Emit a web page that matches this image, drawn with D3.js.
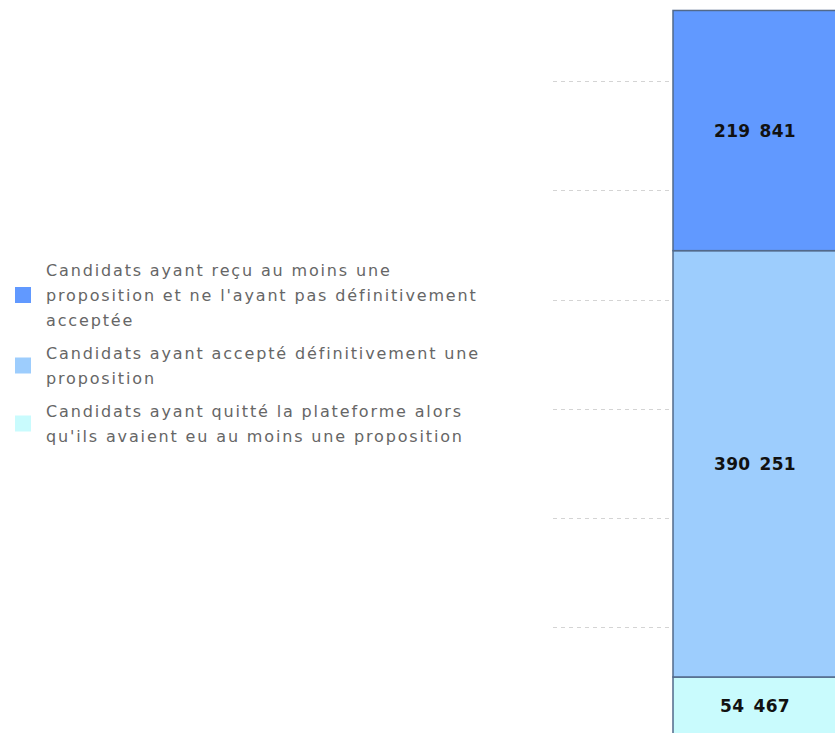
<!DOCTYPE html>
<html><head><meta charset="utf-8">
<script src="https://cdn.jsdelivr.net/npm/d3@7"></script>
<style>body{margin:0;background:#fff;}svg{display:block;}</style>
</head><body>
<svg id="c" width="835" height="733"></svg>
<script>
const seriesNames = [
  "Candidats ayant reçu au moins une proposition et ne l'ayant pas définitivement acceptée",
  "Candidats ayant accepté définitivement une proposition",
  "Candidats ayant quitté la plateforme alors qu'ils avaient eu au moins une proposition"
];
const legendLines = [
  ["Candidats ayant reçu au moins une", "proposition et ne l'ayant pas définitivement", "acceptée"],
  ["Candidats ayant accepté définitivement une", "proposition"],
  ["Candidats ayant quitté la plateforme alors", "qu'ils avaient eu au moins une proposition"]
];
const seriesValues = [219841, 390251, 54467];
const seriesColors = ["#6199ff", "#9dcdfd", "#c9fbfd"];
const gridTicks = [100000, 200000, 300000, 400000, 500000, 600000];

const svg = d3.select("#c");
const y = d3.scaleLinear().domain([0, 600000]).range([736.5, 81]);
const x = d3.scaleBand().domain(["bar"]).range([673, 839]).padding(0);

// gridlines
svg.append("g").selectAll("line").data(gridTicks).join("line")
  .attr("x1", 553).attr("x2", 670)
  .attr("y1", d => Math.round(y(d)) + 0.5).attr("y2", d => Math.round(y(d)) + 0.5)
  .attr("stroke", "#d4d4d4").attr("stroke-width", 1).attr("stroke-dasharray", "4,4");

// stacked from bottom: quit, accepted, received
const order = [2, 1, 0];
let acc = 0;
const segs = order.map(i => { const s = {i, y0: acc, y1: acc + seriesValues[i]}; acc += seriesValues[i]; return s; });

const g = svg.append("g");
g.selectAll("rect").data(segs).join("rect")
  .attr("x", x("bar")).attr("width", x.bandwidth())
  .attr("y", d => y(d.y1)).attr("height", d => y(d.y0) - y(d.y1))
  .attr("fill", d => seriesColors[d.i])
  .attr("stroke", "#52698a").attr("stroke-width", 1.5);

const fmt = v => d3.format(",")(v).replace(/,/g, " ");
g.selectAll("text").data(segs).join("text")
  .attr("x", x("bar") + x.bandwidth() / 2 - 1)
  .attr("y", d => Math.min((y(d.y0) + y(d.y1)) / 2, 706))
  .attr("dy", "0.35em")
  .attr("text-anchor", "middle")
  .attr("font-family", "DejaVu Sans, sans-serif").attr("font-weight", "bold")
  .attr("font-size", 17).attr("letter-spacing", "0.3px").attr("word-spacing", "3px").attr("fill", "#111")
  .text(d => fmt(seriesValues[d.i]));

// legend
const legTop = [276, 359, 417];
const lg = svg.append("g");
legendLines.forEach((lines, i) => {
  const n = lines.length;
  const midBase = legTop[i] + (n - 1) * 25 / 2;
  lg.append("rect").attr("x", 15).attr("y", midBase - 14).attr("width", 16).attr("height", 16)
    .attr("fill", seriesColors[i]);
  const t = lg.append("text").attr("font-family", "DejaVu Sans, sans-serif").attr("font-size", 16)
    .attr("fill", "#666").attr("letter-spacing", "1.85px");
  lines.forEach((l, k) => t.append("tspan").attr("x", 46).attr("y", legTop[i] + k * 25).text(l));
});
</script>
</body></html>
